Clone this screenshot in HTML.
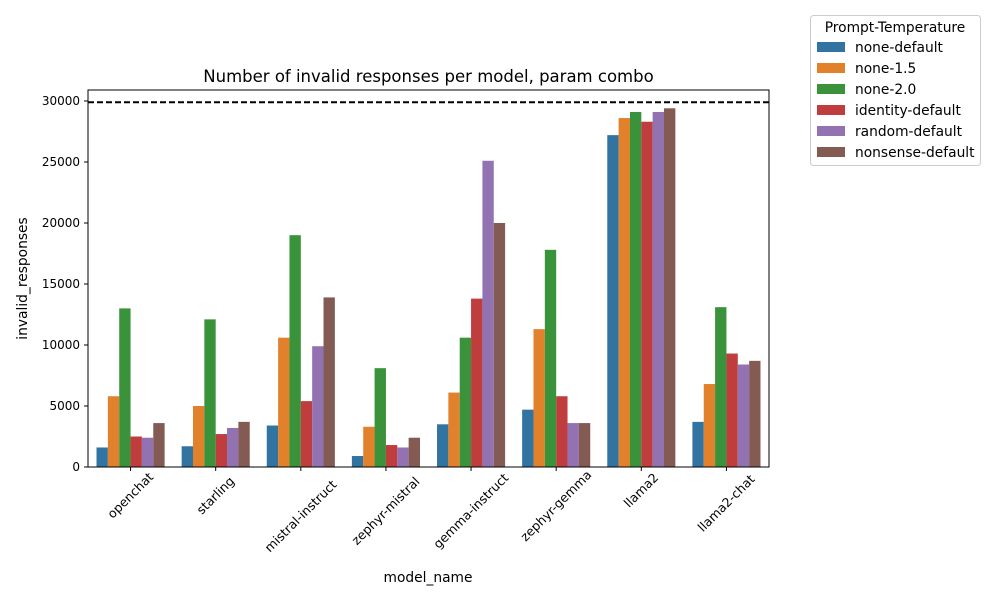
<!DOCTYPE html>
<html><head><meta charset="utf-8"><style>
body{margin:0;background:#fff;font-family:"Liberation Sans","DejaVu Sans",sans-serif}
svg text{font-family:"DejaVu Sans","Liberation Sans",sans-serif}
</style></head><body>
<svg id="c" width="1000" height="600" xmlns="http://www.w3.org/2000/svg"></svg>
<script>
const categories=["openchat","starling","mistral-instruct","zephyr-mistral","gemma-instruct","zephyr-gemma","llama2","llama2-chat"];
const seriesNames=["none-default","none-1.5","none-2.0","identity-default","random-default","nonsense-default"];
const noneDefault=[1600,1700,3400,900,3500,4700,27200,3700];
const none15=[5800,5000,10600,3300,6100,11300,28600,6800];
const none20=[13000,12100,19000,8100,10600,17800,29100,13100];
const identityDefault=[2500,2700,5400,1800,13800,5800,28300,9300];
const randomDefault=[2400,3200,9900,1600,25100,3600,29100,8400];
const nonsenseDefault=[3600,3700,13900,2400,20000,3600,29400,8700];
const yTicks=[0,5000,10000,15000,20000,25000,30000];
const refLine=29900;
const series=[noneDefault,none15,none20,identityDefault,randomDefault,nonsenseDefault];
const colors=["#3274a1","#e1812c","#3a923a","#c03d3e","#9372b2","#845b53"];
const L=88,R=769,T=90,B=467,yMax=30900;
const NS="http://www.w3.org/2000/svg";
const svg=document.getElementById('c');
function el(t,a,txt){const e=document.createElementNS(NS,t);for(const k in a)e.setAttribute(k,a[k]);if(txt!=null)e.textContent=txt;svg.appendChild(e);return e;}
const y=v=>B-(v/yMax)*(B-T);
const bw=(R-L)/categories.length;
const x=i=>L+bw*(i+0.5);
const barW=bw*0.8/series.length;
series.forEach((s,j)=>{s.forEach((v,i)=>{
  const r=el('rect',{x:x(i)-bw*0.4+j*barW,y:y(v),width:barW,height:B-y(v),fill:colors[j]});
  
  
});});
const rl=el('line',{x1:L,x2:R,y1:y(refLine),y2:y(refLine),stroke:'#000','stroke-width':2,'stroke-dasharray':'6,3'});


const fr=el('rect',{x:L,y:T,width:R-L,height:B-T,fill:'none',stroke:'#000','stroke-width':1});


yTicks.forEach(v=>{
  el('line',{x1:L-4,x2:L,y1:y(v),y2:y(v),stroke:'#000'});
  const t=el('text',{x:L-8,y:y(v)+4,'text-anchor':'end','font-size':12},v);
  
  
});
categories.forEach((c,i)=>{
  el('line',{x1:x(i),x2:x(i),y1:B,y2:B+4,stroke:'#000'});
  const len=c.length*7.3/1.414/2;
  const cx=x(i), cy=B+8+len;
  const t=el('text',{x:cx,y:cy+4,'text-anchor':'middle','font-size':12.5,transform:`rotate(-45 ${cx} ${cy})`},c);
  
  
});
let t=el('text',{x:(L+R)/2,y:82,'text-anchor':'middle','font-size':16.5},'Number of invalid responses per model, param combo');

t=el('text',{x:428,y:582,'text-anchor':'middle','font-size':13.8},'model_name');

t=el('text',{x:0,y:0,'text-anchor':'middle','font-size':13.8,transform:`translate(27 ${(T+B)/2}) rotate(-90)`},'invalid_responses');

const lg=el('rect',{x:810.5,y:15.5,width:170,height:150,rx:3,fill:'#fff',stroke:'#ccc'});

t=el('text',{x:895,y:32,'text-anchor':'middle','font-size':13.8},'Prompt-Temperature');

seriesNames.forEach((n,j)=>{
  const yy=47+j*21;
  const s=el('rect',{x:817,y:yy-5,width:28,height:10,fill:colors[j]});
  
  const tt=el('text',{x:855,y:yy+5,'font-size':13.8},n);
  
});
</script>
</body></html>
